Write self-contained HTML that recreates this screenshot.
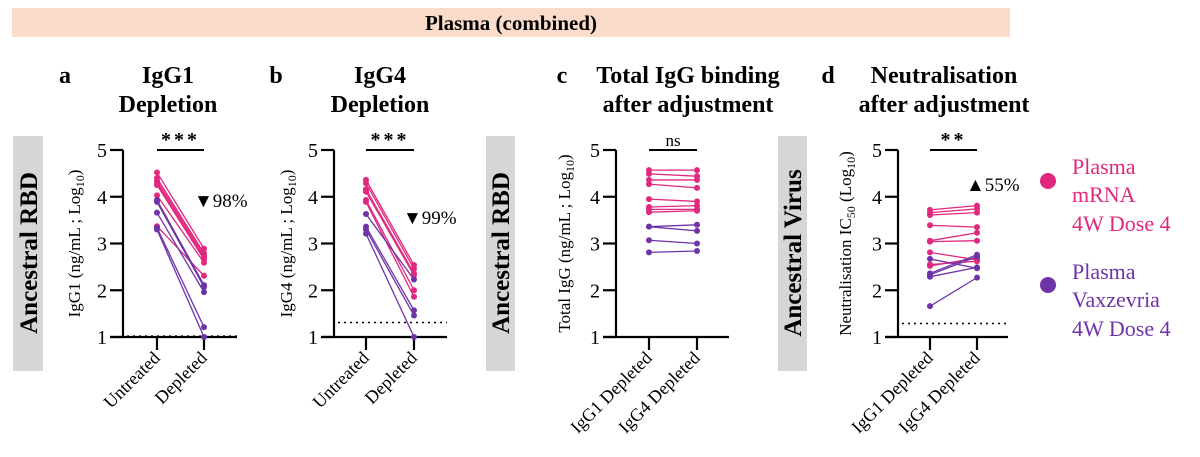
<!DOCTYPE html>
<html><head><meta charset="utf-8">
<style>
html,body{margin:0;padding:0;background:#fff;}
svg, svg text{font-family:"Liberation Serif","DejaVu Serif",serif;}
</style></head>
<body>
<svg id="fig" width="1200" height="452" viewBox="0 0 1200 452" xmlns="http://www.w3.org/2000/svg" font-family="Liberation Serif, DejaVu Serif, serif">
<rect x="12" y="8" width="998" height="29" fill="#fbdccb"/>
<text x="511" y="30" font-size="21" font-weight="bold" text-anchor="middle">Plasma (combined)</text>

<g font-weight="bold" font-size="24" text-anchor="middle">
<text x="65" y="83">a</text>
<text x="168" y="83">IgG1</text>
<text x="168" y="112">Depletion</text>
<text x="276" y="83">b</text>
<text x="380" y="83">IgG4</text>
<text x="380" y="112">Depletion</text>
<text x="562" y="83">c</text>
<text x="688" y="83">Total IgG binding</text>
<text x="688" y="112">after adjustment</text>
<text x="828" y="83">d</text>
<text x="944" y="83">Neutralisation</text>
<text x="944" y="112">after adjustment</text>
</g>

<rect x="13" y="136" width="30" height="235" fill="#d6d6d6"/>
<text transform="translate(37,253) rotate(-90)" font-size="25" font-weight="bold" text-anchor="middle">Ancestral RBD</text>
<rect x="486" y="136" width="29" height="235" fill="#d6d6d6"/>
<text transform="translate(509,253) rotate(-90)" font-size="25" font-weight="bold" text-anchor="middle">Ancestral RBD</text>
<rect x="778" y="136" width="29" height="235" fill="#d6d6d6"/>
<text transform="translate(801,253) rotate(-90)" font-size="25" font-weight="bold" text-anchor="middle">Ancestral Virus</text>

<circle cx="1048" cy="181" r="8" fill="#e0287f"/>
<g fill="#e0287f" font-size="22">
<text x="1072" y="174">Plasma</text><text x="1072" y="202">mRNA</text><text x="1072" y="231">4W Dose 4</text></g>
<circle cx="1048" cy="285" r="8" fill="#6f33a8"/>
<g fill="#6f33a8" font-size="22">
<text x="1072" y="279">Plasma</text><text x="1072" y="307">Vaxzevria</text><text x="1072" y="336">4W Dose 4</text></g>
</svg>
<script>
// Panel A (IgG1 depletion)
const aCats = ["Untreated","Depleted"];
const aPinkPre  = [4.52,4.40,4.34,4.29,4.25,4.03,3.37];
const aPinkPost = [2.89,2.79,2.75,2.70,2.66,2.59,2.31];
const aPurpPre  = [3.93,3.89,3.66,3.34,3.30];
const aPurpPost = [2.11,2.07,1.96,1.21,1.00];
// Panel B (IgG4 depletion)
const bCats = ["Untreated","Depleted"];
const bPinkPre  = [4.36,4.29,4.16,4.11,3.93,3.89];
const bPinkPost = [2.54,2.46,2.36,2.32,2.00,1.86];
const bPurpPre  = [3.63,3.36,3.30,3.21];
const bPurpPost = [2.23,1.57,1.46,1.00];
// Panel C (total IgG)
const cCats = ["IgG1 Depleted","IgG4 Depleted"];
const cPinkPre  = [4.57,4.49,4.36,4.27,3.95,3.78,3.73,3.67];
const cPinkPost = [4.57,4.44,4.36,4.19,3.90,3.81,3.73,3.70];
const cPurpPre  = [3.36,3.36,3.07,2.81];
const cPurpPost = [3.40,3.27,3.00,2.84];
// Panel D (neutralisation)
const dCats = ["IgG1 Depleted","IgG4 Depleted"];
const dPinkPre  = [3.72,3.66,3.61,3.39,3.06,3.04,2.81,2.55,2.52];
const dPinkPost = [3.81,3.74,3.66,3.35,3.23,3.06,2.65,2.62,2.69];
const dPurpPre  = [2.67,2.36,2.33,2.29,1.66];
const dPurpPost = [2.47,2.76,2.72,2.49,2.27];
const yTicks = [1,2,3,4,5];

const NS="http://www.w3.org/2000/svg";
const svg=document.getElementById('fig');
const PINK="#e0287f", PURP="#6f33a8";
function mk(tag,attrs,parent){const e=document.createElementNS(NS,tag);for(const k in attrs)e.setAttribute(k,attrs[k]);(parent||svg).appendChild(e);return e;}

function panel(p){
  const g=mk('g',{});
  
  
  const y=v=>p.y1+(v-1)*(p.y5-p.y1)/4;
  const xc=[p.c0,p.c1];
  const ax=mk('path',{d:`M${p.ax} ${y(5)}V${y(1)}M${p.ax-13} ${y(1)}H${p.xr}`,stroke:'#000','stroke-width':2.2,fill:'none'},g);
  
  
  yTicks.forEach(t=>{
    mk('line',{x1:p.ax-13,x2:p.ax,y1:y(t),y2:y(t),stroke:'#000','stroke-width':2.2},g);
    const tl=mk('text',{x:p.ax-16,y:y(t)+7,'font-size':20,'text-anchor':'end'},g);
    tl.textContent=t;
    
    
  });
  p.cats.forEach((c,i)=>{
    mk('line',{x1:xc[i],x2:xc[i],y1:y(1),y2:y(1)+13,stroke:'#000','stroke-width':2.2},g);
    const tl=mk('text',{transform:`translate(${xc[i]+4},${y(1)+22}) rotate(-45)`,'font-size':18,'text-anchor':'end'},g);
    tl.textContent=c;
    
    
  });
  if(p.lod){
    const l=mk('line',{x1:p.ax+4,x2:p.xr,y1:y(p.lod),y2:y(p.lod),stroke:'#000','stroke-width':1.5,'stroke-dasharray':'2 4'},g);
    
    
  }
  const yl=mk('text',{transform:`translate(${p.ylx},${(y(1)+y(5))/2}) rotate(-90)`,'font-size':17,'text-anchor':'middle'},g);
  yl.innerHTML=p.ylab;
  
  
  const sb=mk('line',{x1:xc[0],x2:xc[1],y1:y(5),y2:y(5),stroke:'#000','stroke-width':2},g);
  
  
  const st=mk('text',{x:(xc[0]+xc[1])/2,y:y(5)-4,'font-size':p.sig=='ns'?17:20,'font-weight':p.sig=='ns'?'normal':'bold','text-anchor':'middle','letter-spacing':p.sig=='ns'?0:3},g);
  st.textContent=p.sig;
  
  
  if(p.pct){
    const pt=mk('text',{x:p.pctx,y:y(p.pcty)+7,'font-size':19},g);
    pt.textContent=p.pct;
    
    
  }
  [[p.pp,p.pq,PINK],[p.up,p.uq,PURP]].forEach(([a,b,col])=>{
    a.forEach((v,i)=>{
      const ln=mk('line',{x1:xc[0],y1:y(v),x2:xc[1],y2:y(b[i]),stroke:col,'stroke-width':1.3},g);
      
      
      [[xc[0],v],[xc[1],b[i]]].forEach(([xx,vv])=>{
        const c=mk('circle',{cx:xx,cy:y(vv),r:3,fill:col},g);
        
        
      });
    });
  });
}
panel({id:'a',ax:123,c0:157,c1:204,xr:237,y1:337,y5:150,cats:aCats,lod:1.02,ylx:80,
  ylab:'IgG1 (ng/mL ; Log<tspan font-size="12" dy="4">10</tspan><tspan dy="-4">)</tspan>',sig:'***',pct:'▼98%',pctx:194,pcty:3.93,
  pp:aPinkPre,pq:aPinkPost,up:aPurpPre,uq:aPurpPost});
panel({id:'b',ax:334,c0:366,c1:414,xr:447,y1:337,y5:150,cats:bCats,lod:1.31,ylx:292,
  ylab:'IgG4 (ng/mL ; Log<tspan font-size="12" dy="4">10</tspan><tspan dy="-4">)</tspan>',sig:'***',pct:'▼99%',pctx:403,pcty:3.57,
  pp:bPinkPre,pq:bPinkPost,up:bPurpPre,uq:bPurpPost});
panel({id:'c',ax:616,c0:649,c1:697,xr:729,y1:337,y5:150,cats:cCats,lod:null,ylx:570,
  ylab:'Total IgG (ng/mL ; Log<tspan font-size="12" dy="4">10</tspan><tspan dy="-4">)</tspan>',sig:'ns',
  pp:cPinkPre,pq:cPinkPost,up:cPurpPre,uq:cPurpPost});
panel({id:'d',ax:898,c0:930,c1:977,xr:1008,y1:337,y5:150,cats:dCats,lod:1.29,ylx:851,
  ylab:'Neutralisation IC<tspan font-size="12" dy="4">50</tspan><tspan dy="-4"> (Log</tspan><tspan font-size="12" dy="4">10</tspan><tspan dy="-4">)</tspan>',sig:'**',pct:'▲55%',pctx:966,pcty:4.27,
  pp:dPinkPre,pq:dPinkPost,up:dPurpPre,uq:dPurpPost});
</script>
</body></html>
